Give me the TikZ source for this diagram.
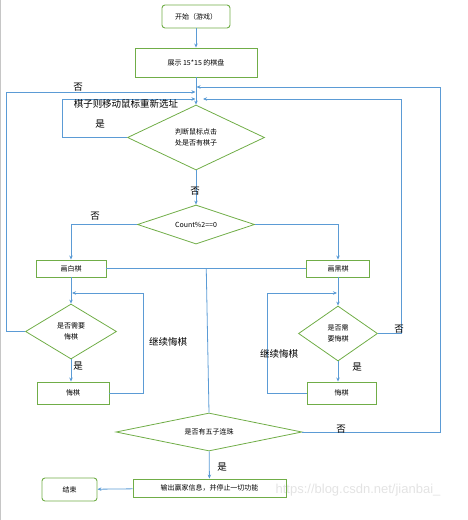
\documentclass[tikz,border=0pt]{standalone}
\usepackage{fontspec}
\setmainfont{Noto Sans CJK SC}
\newfontfamily\wmfont{Liberation Sans}
\usetikzlibrary{shapes.geometric,arrows.meta,calc}
\definecolor{lineblue}{RGB}{91,155,213}
\definecolor{boxgreen}{RGB}{112,173,71}
\tikzset{
 box/.style={draw=boxgreen,line width=0.9pt,rectangle,inner sep=0pt,font=\fontsize{7}{9}\selectfont,align=center},
 rbox/.style={box,rounded corners=3pt},
 dia/.style={draw=boxgreen,line width=0.8pt,diamond,aspect=2,inner sep=0pt,font=\fontsize{7}{11}\selectfont,align=center},
 conn/.style={draw=lineblue,line width=0.8pt},
 arr/.style={conn,-{Stealth[length=4pt,width=3.5pt]}},
 lab/.style={font=\fontsize{9.5}{9.5}\selectfont,inner sep=0pt},
}
\begin{document}
\begin{tikzpicture}[x=1pt,y=-1pt]
\useasboundingbox (0,0) rectangle (468,520);
\draw[gray!45,line width=1pt] (0.5,0) -- (0.5,520);
% watermark
\node[font=\wmfont\fontsize{13}{13}\selectfont,text=gray!22,inner sep=0pt] (wm) at (358,490) {https://blog.csdn.net/jianbai\_};
% nodes
\node[rbox,minimum width=68pt,minimum height=23pt] (start) at (196,16.5) {开始（游戏）};
\node[box,minimum width=122pt,minimum height=29pt] (board) at (196,62.5) {展示 15*15 的棋盘};
\node[dia,minimum width=137pt,minimum height=65pt] (d1) at (196,137.5) {判断鼠标点击\\处是否有棋子};
\node[dia,minimum width=117pt,minimum height=39pt] (d2) at (196,224.5) {Count\%2==0};
\node[box,minimum width=70pt,minimum height=17pt] (white) at (71,268.5) {画白棋};
\node[box,minimum width=63pt,minimum height=17pt] (black) at (338,268.5) {画黑棋};
\node[dia,minimum width=91pt,minimum height=55pt] (dL) at (71,331.5) {是否需要\\悔棋};
\node[dia,minimum width=79pt,minimum height=55pt] (dR) at (338,333.5) {是否需\\要悔棋};
\node[box,minimum width=72pt,minimum height=22pt] (undoL) at (73,393) {悔棋};
\node[box,minimum width=69pt,minimum height=22pt] (undoR) at (341.5,393) {悔棋};
\node[dia,minimum width=186pt,minimum height=38pt] (d5) at (209,432) {是否有五子连珠};
\node[box,minimum width=153pt,minimum height=18pt] (out) at (209.5,488) {输出赢家信息，并停止一切功能};
\node[rbox,minimum width=55pt,minimum height=23pt] (end) at (69.5,489.5) {结束};
% junction coordinates
\coordinate (mA) at (196,87);
\coordinate (mB) at (196,92);
\coordinate (mC) at (196,99);
\coordinate (jL) at (71,293);
\coordinate (jR) at (338,293);
\coordinate (mid) at ($(white.east)!0.5!(black.west)$);
% connectors
\draw[arr] (start) -- (board);
\draw[arr] (board) -- (d1);
\draw[arr] (d1.west) -- ++(-65,0) |- ([xshift=-0.5pt]mC);
\draw[arr] (dR.east) -- ++(23,0) |- ([xshift=7pt]mC);
\draw[arr] (dL.west) -- ++(-19,0) |- ([xshift=-0.5pt]mB);
\draw[arr] (d5.east) -- ++(138,0) |- ([xshift=0.5pt]mA);
\draw[arr] (d1) -- (d2);
\draw[arr] (d2.west) -| (white.north);
\draw[arr] (d2.east) -| (black.north);
\draw[conn] (white.east) -- (black.west);
\draw[conn] (mid) -- (d5.north);
\draw[arr] (white) -- (dL);
\draw[arr] (dL.south) -- (dL.south |- undoL.north);
\draw[arr] (undoL.east) -- ++(34,0) |- ([xshift=1pt]jL);
\draw[arr] (black) -- (dR);
\draw[arr] (dR.south) -- (dR.south |- undoR.north);
\draw[arr] (undoR.west) -- ++(-39,0) |- ([xshift=-1pt]jR);
\draw[arr] (d5) -- (out);
\draw[arr] (out) -- (end);
% labels
\node[lab] (l1) at (126,104) {棋子则移动鼠标重新选址};
\node[lab] (l2) at (100,124) {是};
\node[lab] (l3) at (78,87) {否};
\node[lab] (l4) at (195,191) {否};
\node[lab] (l5) at (95,216) {否};
\node[lab] (l6) at (168,342) {继续悔棋};
\node[lab] (l7) at (279,354) {继续悔棋};
\node[lab] (l8) at (78,366) {是};
\node[lab] (l9) at (357,367) {是};
\node[lab] (l10) at (399,329) {否};
\node[lab] (l11) at (341,429) {否};
\node[lab] (l12) at (222,467) {是};
\end{tikzpicture}
\end{document}
